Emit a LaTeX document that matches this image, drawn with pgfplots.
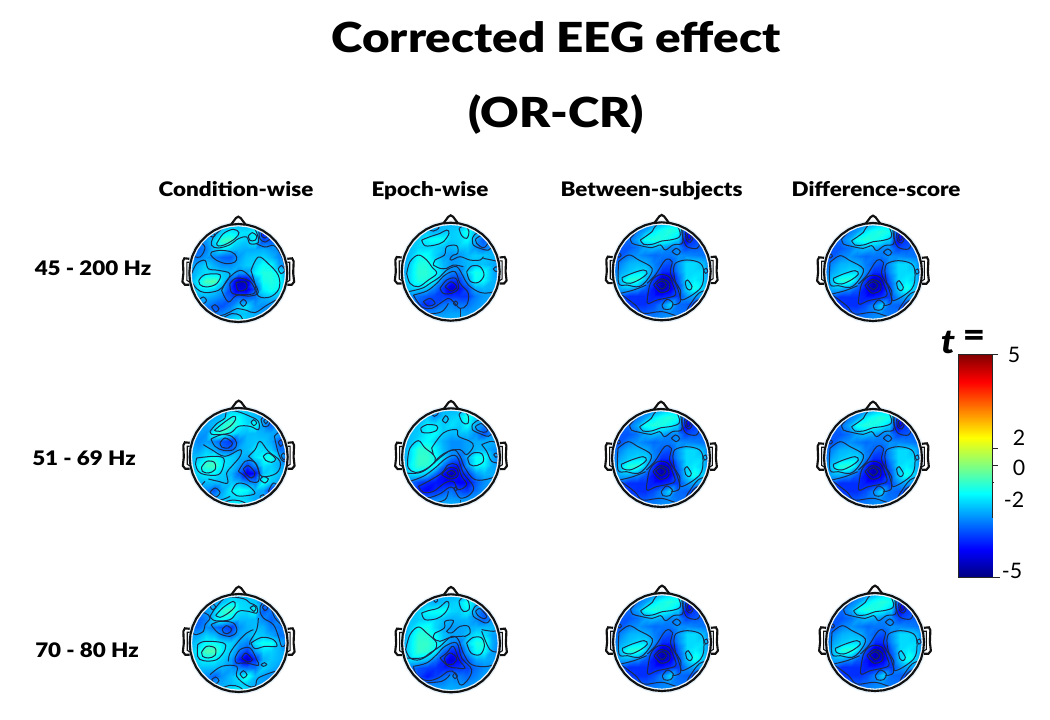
\documentclass[border=0pt]{standalone}
\usepackage{fontspec}
\usepackage{pgfplots}
\usepackage{pgfplotstable}
\pgfplotsset{compat=1.18}
\setmainfont{Lato}
\newfontfamily\titlefont{Lato Black}[FakeStretch=1.15]
\newfontfamily\labfont{Lato Black}[FakeStretch=1.12]

% t values, 13 x 13 grid, top row first
\pgfplotstableread[row sep=crcr]{v\\
-2.3\\-2.3\\-2.3\\-2.4\\-2.4\\-2.3\\-2.3\\-2.3\\-2.3\\-3.0\\-2.6\\-2.3\\-2.3\\
-2.3\\-2.4\\-2.5\\-2.6\\-2.0\\-1.7\\-1.9\\-1.9\\-1.6\\-3.9\\-3.3\\-2.4\\-2.3\\
-2.5\\-2.6\\-2.6\\-2.0\\-1.1\\-1.0\\-1.9\\-2.1\\-1.7\\-3.4\\-3.3\\-2.5\\-2.3\\
-3.0\\-3.1\\-2.8\\-2.2\\-1.8\\-2.1\\-2.3\\-2.4\\-2.4\\-2.4\\-2.6\\-2.8\\-2.4\\
-3.0\\-2.9\\-2.6\\-2.8\\-3.1\\-3.2\\-2.6\\-2.2\\-2.1\\-2.0\\-2.3\\-2.8\\-2.7\\
-2.5\\-2.4\\-2.0\\-2.4\\-2.7\\-2.7\\-2.4\\-2.1\\-2.0\\-1.5\\-1.6\\-2.5\\-3.0\\
-2.5\\-2.2\\-1.9\\-1.9\\-2.1\\-2.3\\-2.7\\-2.7\\-1.7\\-1.3\\-1.3\\-1.6\\-2.7\\
-2.5\\-1.8\\-0.9\\-0.8\\-2.0\\-3.2\\-4.4\\-4.4\\-2.6\\-1.4\\-1.3\\-1.5\\-2.4\\
-2.5\\-2.0\\-1.8\\-2.0\\-2.4\\-3.5\\-4.2\\-4.2\\-3.3\\-1.7\\-1.4\\-1.7\\-2.3\\
-2.6\\-2.5\\-2.4\\-2.6\\-2.9\\-3.2\\-3.0\\-3.1\\-2.9\\-2.4\\-2.3\\-2.4\\-2.4\\
-2.7\\-2.7\\-2.9\\-3.2\\-3.3\\-2.9\\-2.2\\-1.9\\-2.6\\-2.7\\-2.7\\-2.6\\-2.5\\
-2.5\\-2.6\\-2.7\\-2.9\\-2.7\\-2.5\\-2.2\\-2.2\\-2.4\\-2.5\\-2.5\\-2.5\\-2.5\\
-2.4\\-2.4\\-2.4\\-2.4\\-2.2\\-1.7\\-1.6\\-2.1\\-2.4\\-2.4\\-2.4\\-2.4\\-2.4\\
}\mapA
\pgfplotstableread[row sep=crcr]{v\\
-2.3\\-2.3\\-2.3\\-2.3\\-2.7\\-2.3\\-2.3\\-2.3\\-2.3\\-2.3\\-2.3\\-2.3\\-2.3\\
-2.3\\-2.3\\-2.2\\-2.2\\-2.4\\-2.2\\-2.1\\-2.0\\-1.4\\-2.2\\-2.4\\-2.4\\-2.3\\
-2.3\\-2.2\\-2.1\\-1.7\\-1.5\\-1.6\\-2.1\\-2.0\\-1.6\\-2.4\\-3.2\\-2.7\\-2.4\\
-2.4\\-2.2\\-2.0\\-2.0\\-2.0\\-2.2\\-2.3\\-2.1\\-2.1\\-2.6\\-3.0\\-2.6\\-2.4\\
-2.5\\-2.2\\-1.6\\-1.5\\-2.0\\-2.5\\-2.6\\-2.6\\-2.3\\-2.1\\-2.2\\-2.3\\-2.5\\
-2.6\\-2.0\\-1.3\\-1.3\\-1.7\\-2.3\\-2.6\\-2.5\\-2.3\\-2.2\\-2.2\\-2.4\\-2.7\\
-2.6\\-1.9\\-1.2\\-1.2\\-1.5\\-2.2\\-2.8\\-2.9\\-2.1\\-1.4\\-1.5\\-2.3\\-2.8\\
-2.5\\-1.9\\-1.3\\-1.3\\-1.7\\-3.0\\-3.6\\-3.5\\-2.6\\-1.5\\-1.6\\-2.3\\-2.5\\
-2.4\\-2.1\\-2.0\\-2.1\\-2.8\\-3.6\\-4.3\\-3.9\\-3.4\\-2.4\\-2.3\\-2.4\\-2.4\\
-2.5\\-2.7\\-3.0\\-3.2\\-3.4\\-3.5\\-3.6\\-3.6\\-3.6\\-2.9\\-2.6\\-2.5\\-2.4\\
-2.4\\-2.7\\-3.2\\-3.7\\-3.4\\-3.0\\-2.8\\-3.0\\-3.0\\-2.7\\-2.5\\-2.4\\-2.3\\
-2.4\\-2.5\\-2.6\\-2.8\\-2.7\\-2.6\\-2.5\\-2.5\\-2.6\\-2.5\\-2.4\\-2.4\\-2.3\\
-2.3\\-2.3\\-2.3\\-2.3\\-2.3\\-2.3\\-2.3\\-2.3\\-2.3\\-2.3\\-2.3\\-2.3\\-2.3\\
}\mapB
\pgfplotstableread[row sep=crcr]{v\\
-2.6\\-2.6\\-2.6\\-2.6\\-2.6\\-2.5\\-2.2\\-1.9\\-1.9\\-2.2\\-3.0\\-2.8\\-2.7\\
-2.6\\-2.7\\-2.7\\-2.7\\-2.3\\-1.6\\-1.2\\-1.0\\-1.2\\-3.5\\-3.2\\-2.9\\-2.6\\
-2.6\\-2.8\\-2.8\\-2.2\\-1.2\\-1.0\\-1.1\\-1.3\\-1.8\\-4.0\\-3.3\\-3.0\\-2.6\\
-2.8\\-3.0\\-3.0\\-2.7\\-2.2\\-2.0\\-2.2\\-2.5\\-2.5\\-3.2\\-3.0\\-2.9\\-2.7\\
-3.0\\-3.0\\-2.6\\-2.4\\-2.6\\-2.8\\-2.7\\-2.7\\-2.4\\-2.5\\-2.6\\-2.7\\-2.9\\
-2.9\\-2.5\\-2.1\\-2.0\\-2.1\\-2.6\\-2.9\\-3.1\\-2.4\\-1.7\\-1.7\\-2.0\\-2.9\\
-2.8\\-2.2\\-1.9\\-1.7\\-1.7\\-2.5\\-3.4\\-3.4\\-2.5\\-1.7\\-1.7\\-1.7\\-2.8\\
-2.6\\-1.8\\-1.0\\-0.9\\-1.9\\-3.3\\-4.4\\-4.2\\-2.9\\-1.7\\-1.5\\-1.8\\-2.6\\
-2.7\\-2.1\\-2.0\\-2.3\\-2.9\\-3.7\\-4.5\\-4.0\\-3.2\\-1.8\\-1.1\\-1.8\\-2.5\\
-2.8\\-3.0\\-3.4\\-3.4\\-3.4\\-3.6\\-3.6\\-3.4\\-3.3\\-2.4\\-2.2\\-2.4\\-2.7\\
-2.7\\-3.0\\-3.3\\-3.4\\-3.4\\-3.1\\-2.6\\-1.8\\-2.8\\-2.9\\-3.3\\-3.6\\-3.1\\
-2.6\\-2.7\\-2.9\\-3.0\\-3.0\\-2.8\\-2.6\\-2.5\\-2.7\\-2.8\\-3.1\\-3.2\\-2.9\\
-2.6\\-2.6\\-2.6\\-2.6\\-2.6\\-2.5\\-2.4\\-2.4\\-2.5\\-2.6\\-2.6\\-2.6\\-2.6\\
}\mapC
\pgfplotstableread[row sep=crcr]{v\\
-2.1\\-2.1\\-2.1\\-2.1\\-2.1\\-2.1\\-2.1\\-2.1\\-2.1\\-2.1\\-2.1\\-2.1\\-2.1\\
-2.1\\-2.1\\-2.2\\-2.3\\-2.1\\-1.4\\-1.5\\-1.9\\-2.1\\-2.6\\-2.4\\-2.1\\-2.1\\
-2.1\\-2.2\\-2.3\\-2.1\\-1.2\\-0.8\\-1.4\\-1.8\\-1.3\\-2.4\\-3.0\\-2.4\\-2.2\\
-2.2\\-2.4\\-2.5\\-1.3\\-1.0\\-1.6\\-2.0\\-2.1\\-2.1\\-2.2\\-2.3\\-2.5\\-2.3\\
-2.3\\-2.6\\-2.4\\-2.6\\-3.1\\-3.4\\-2.6\\-2.1\\-2.0\\-2.0\\-2.3\\-3.1\\-2.8\\
-2.2\\-2.4\\-2.0\\-2.2\\-2.9\\-3.0\\-2.3\\-2.1\\-1.7\\-1.8\\-2.0\\-2.9\\-2.9\\
-2.1\\-2.0\\-1.6\\-1.3\\-1.8\\-1.9\\-2.2\\-2.3\\-1.7\\-1.4\\-1.1\\-2.2\\-3.2\\
-2.1\\-1.6\\-0.9\\-0.8\\-1.6\\-1.9\\-2.4\\-3.3\\-2.5\\-1.7\\-1.9\\-2.3\\-2.4\\
-2.1\\-1.8\\-1.5\\-1.5\\-1.9\\-2.2\\-3.0\\-4.1\\-3.8\\-2.0\\-1.8\\-2.1\\-2.2\\
-2.1\\-2.2\\-2.1\\-2.1\\-2.0\\-2.0\\-2.2\\-2.6\\-2.7\\-1.3\\-2.0\\-2.5\\-2.2\\
-2.2\\-2.5\\-2.6\\-3.1\\-2.3\\-1.6\\-1.3\\-1.5\\-2.1\\-2.3\\-3.5\\-2.9\\-2.2\\
-2.1\\-2.2\\-2.3\\-2.4\\-2.1\\-1.9\\-1.8\\-2.0\\-2.3\\-2.3\\-2.7\\-2.4\\-2.1\\
-2.1\\-2.1\\-2.1\\-2.1\\-1.7\\-1.4\\-1.4\\-1.6\\-2.1\\-2.1\\-2.1\\-2.1\\-2.1\\
}\mapD
\pgfplotstableread[row sep=crcr]{v\\
-2.3\\-2.3\\-2.3\\-2.3\\-2.4\\-2.3\\-2.3\\-2.3\\-2.3\\-2.3\\-2.3\\-2.3\\-2.3\\
-2.3\\-2.3\\-2.3\\-2.2\\-2.7\\-2.2\\-2.1\\-2.0\\-1.3\\-2.1\\-2.3\\-2.3\\-2.3\\
-2.3\\-2.3\\-2.2\\-1.7\\-1.8\\-2.1\\-1.9\\-2.1\\-1.6\\-2.4\\-2.9\\-2.5\\-2.3\\
-2.4\\-2.2\\-2.1\\-1.7\\-1.6\\-2.1\\-2.3\\-2.2\\-2.2\\-2.7\\-3.3\\-2.7\\-2.4\\
-2.6\\-2.2\\-1.9\\-1.6\\-2.0\\-2.4\\-2.7\\-2.7\\-2.5\\-2.4\\-2.4\\-2.4\\-2.5\\
-2.7\\-1.9\\-1.2\\-1.2\\-1.7\\-2.3\\-2.7\\-2.7\\-2.5\\-2.3\\-2.3\\-2.6\\-2.8\\
-2.6\\-1.9\\-1.1\\-1.1\\-1.5\\-2.0\\-2.8\\-3.1\\-2.4\\-1.5\\-1.5\\-2.4\\-3.0\\
-2.4\\-1.7\\-1.1\\-1.2\\-1.6\\-2.9\\-3.7\\-3.8\\-2.6\\-1.6\\-1.7\\-2.4\\-2.6\\
-2.4\\-2.0\\-1.9\\-2.2\\-3.1\\-3.9\\-4.5\\-3.9\\-3.6\\-2.6\\-2.3\\-2.4\\-2.4\\
-2.6\\-3.0\\-3.4\\-3.7\\-3.8\\-3.9\\-3.9\\-4.0\\-4.0\\-3.2\\-2.7\\-2.5\\-2.4\\
-2.5\\-3.0\\-3.8\\-4.0\\-3.7\\-3.4\\-3.0\\-3.4\\-3.6\\-3.0\\-2.6\\-2.4\\-2.3\\
-2.4\\-2.5\\-2.9\\-3.0\\-2.9\\-2.7\\-2.6\\-2.7\\-2.7\\-2.6\\-2.4\\-2.3\\-2.3\\
-2.3\\-2.3\\-2.3\\-2.3\\-2.3\\-2.3\\-2.3\\-2.3\\-2.3\\-2.3\\-2.3\\-2.3\\-2.3\\
}\mapE
\pgfplotstableread[row sep=crcr]{v\\
-2.2\\-2.2\\-2.2\\-2.2\\-2.2\\-2.2\\-2.2\\-2.2\\-2.2\\-2.6\\-2.4\\-2.2\\-2.2\\
-2.2\\-2.3\\-2.4\\-2.5\\-2.2\\-1.7\\-1.9\\-2.0\\-2.1\\-3.0\\-2.8\\-2.3\\-2.2\\
-2.4\\-2.5\\-2.5\\-2.1\\-1.2\\-0.9\\-1.8\\-1.9\\-1.5\\-3.2\\-2.9\\-2.4\\-2.3\\
-2.9\\-3.1\\-2.8\\-1.9\\-1.4\\-1.9\\-2.2\\-2.2\\-2.2\\-2.7\\-3.1\\-2.7\\-2.4\\
-3.0\\-3.0\\-2.6\\-2.9\\-3.2\\-3.5\\-2.6\\-2.3\\-2.2\\-2.3\\-2.8\\-2.9\\-2.6\\
-2.5\\-2.4\\-2.0\\-2.2\\-2.8\\-3.0\\-2.4\\-2.3\\-2.0\\-2.1\\-2.4\\-2.9\\-3.0\\
-2.3\\-2.0\\-1.5\\-1.4\\-1.8\\-2.0\\-2.5\\-2.8\\-1.8\\-1.4\\-1.4\\-2.3\\-3.1\\
-2.2\\-1.6\\-0.8\\-0.8\\-1.7\\-2.1\\-2.9\\-3.5\\-2.5\\-1.9\\-2.0\\-2.3\\-2.4\\
-2.1\\-1.9\\-1.6\\-1.6\\-2.0\\-2.5\\-3.7\\-4.4\\-3.6\\-2.3\\-2.1\\-2.3\\-2.3\\
-2.1\\-2.2\\-2.2\\-2.2\\-2.3\\-2.5\\-2.7\\-2.9\\-2.9\\-2.0\\-2.3\\-2.6\\-2.3\\
-2.2\\-2.5\\-2.7\\-3.1\\-2.6\\-2.2\\-1.8\\-1.3\\-2.2\\-2.5\\-2.7\\-2.7\\-2.2\\
-2.1\\-2.2\\-2.4\\-2.5\\-2.4\\-2.2\\-2.0\\-2.1\\-2.4\\-2.5\\-2.4\\-2.3\\-2.1\\
-2.1\\-2.1\\-2.1\\-2.0\\-1.8\\-1.5\\-1.5\\-1.9\\-2.2\\-2.1\\-2.1\\-2.1\\-2.1\\
}\mapF
\pgfplotstableread[row sep=crcr]{v\\
-2.4\\-2.4\\-2.4\\-2.4\\-2.4\\-2.4\\-2.4\\-2.4\\-2.4\\-2.4\\-2.4\\-2.4\\-2.4\\
-2.4\\-2.4\\-2.3\\-2.3\\-2.4\\-2.2\\-2.1\\-2.0\\-1.4\\-2.2\\-2.5\\-2.4\\-2.3\\
-2.4\\-2.3\\-2.1\\-1.6\\-1.5\\-1.5\\-2.0\\-2.1\\-1.7\\-2.6\\-3.3\\-2.8\\-2.4\\
-2.5\\-2.2\\-2.1\\-2.0\\-2.0\\-2.2\\-2.4\\-2.3\\-2.3\\-2.7\\-3.2\\-2.7\\-2.4\\
-2.6\\-2.1\\-1.6\\-1.4\\-2.0\\-2.4\\-2.6\\-2.5\\-2.4\\-2.3\\-2.3\\-2.3\\-2.5\\
-2.7\\-1.9\\-1.2\\-1.2\\-1.6\\-2.2\\-2.5\\-2.5\\-2.2\\-1.8\\-1.9\\-2.5\\-2.8\\
-2.6\\-1.8\\-1.1\\-1.1\\-1.4\\-2.1\\-2.8\\-3.0\\-2.0\\-1.3\\-1.3\\-2.4\\-2.9\\
-2.5\\-1.8\\-1.1\\-1.2\\-1.7\\-3.0\\-3.7\\-3.7\\-2.5\\-1.5\\-1.6\\-2.5\\-2.8\\
-2.4\\-2.0\\-2.0\\-2.3\\-3.0\\-3.7\\-4.3\\-3.9\\-3.3\\-2.5\\-2.4\\-2.5\\-2.5\\
-2.6\\-3.0\\-3.3\\-3.5\\-3.6\\-3.7\\-3.7\\-3.6\\-3.5\\-3.0\\-2.7\\-2.5\\-2.4\\
-2.5\\-2.8\\-3.4\\-3.8\\-3.5\\-3.1\\-2.7\\-2.9\\-3.1\\-2.8\\-2.5\\-2.4\\-2.3\\
-2.4\\-2.5\\-2.7\\-2.9\\-2.8\\-2.7\\-2.5\\-2.6\\-2.7\\-2.5\\-2.4\\-2.3\\-2.3\\
-2.3\\-2.3\\-2.3\\-2.3\\-2.3\\-2.3\\-2.3\\-2.3\\-2.3\\-2.3\\-2.3\\-2.3\\-2.3\\
}\mapG

\pgfplotstableread{
x y v
958 354 5
992 354 5
958 376.3 4
992 376.3 4
958 398.6 3
992 398.6 3
958 420.9 2
992 420.9 2
958 443.2 1
992 443.2 1
958 465.5 0
992 465.5 0
958 487.8 -1
992 487.8 -1
958 510.1 -2
992 510.1 -2
958 532.4 -3
992 532.4 -3
958 554.7 -4
992 554.7 -4
958 577 -5
992 577 -5
}\barT

\definecolor{ctr}{HTML}{1B2B4D}
\definecolor{halo}{HTML}{E6F1FA}
\definecolor{hd}{HTML}{111111}
\def\zx{190}\def\zy{203}\def\hx{0}\def\hy{0}

% contour, in pixels of the zoomed crop
\newcommand\ct[1]{\addplot[ctr,line width=.75pt,smooth,tension=.6,
  x filter/.expression={\hx+(x-\zx)/3},y filter/.expression={\hy+(y-\zy)/3}] coordinates {#1};}
% head parts in head radii
\newcommand\hd[2]{\addplot[#1,x filter/.expression={\hx+49*x},y filter/.expression={\hy+49*y}] coordinates {#2};}

\def\ring{(1,0)(.985,.174)(.94,.342)(.866,.5)(.766,.643)(.643,.766)(.5,.866)(.342,.94)(.174,.985)(0,1)(-.174,.985)(-.342,.94)(-.5,.866)(-.643,.766)(-.766,.643)(-.866,.5)(-.94,.342)(-.985,.174)(-1,0)(-.985,-.174)(-.94,-.342)(-.866,-.5)(-.766,-.643)(-.643,-.766)(-.5,-.866)(-.342,-.94)(-.174,-.985)(0,-1)(.174,-.985)(.342,-.94)(.5,-.866)(.643,-.766)(.766,-.643)(.866,-.5)(.94,-.342)(.985,-.174)(1,0)}

\newcommand\ctrA{%
\ct{(125,115)(145,85)(175,72)(192,82)(180,100)(150,118)(130,122)(125,115)}
\ct{(145,55)(140,70)(115,95)(110,120)(130,128)(165,118)(190,100)(215,95)(225,115)(250,112)(248,90)(235,60)}
\ct{(220,92)(232,82)(245,92)(240,105)(225,105)(220,92)}
\ct{(252,80)(265,65)(285,75)(290,95)(270,110)(255,100)(252,80)}
\ct{(260,85)(270,78)(280,88)(270,98)(260,92)(260,85)}
\ct{(245,115)(270,125)(295,120)(310,135)(325,165)(332,200)}
\ct{(320,180)(310,190)(318,205)(330,195)(320,180)}
\ct{(110,140)(135,135)(170,140)(185,155)(180,170)(155,175)(125,165)(108,150)(110,140)}
\ct{(105,90)(112,82)(120,90)(112,95)(105,90)}
\ct{(48,150)(65,110)(90,125)(75,155)(48,150)}
\ct{(50,205)(65,175)(90,165)(100,190)(130,195)(165,205)(150,235)(130,255)(90,262)(65,250)(48,225)}
\ct{(72,225)(90,208)(135,208)(125,235)(95,245)(75,238)(72,225)}
\ct{(228,195)(250,155)(280,175)(310,210)(312,250)(285,275)(250,272)(240,235)(228,195)}
\ct{(140,255)(160,220)(195,195)(225,215)(250,260)(225,272)(185,270)(160,290)(140,255)}
\ct{(165,235)(185,218)(225,228)(240,262)(200,268)(170,262)(165,235)}
\ct{(183,232)(210,230)(215,250)(190,256)(183,232)}
\ct{(195,292)(205,282)(215,292)(205,303)(195,292)}
\ct{(110,305)(120,298)(132,310)(122,320)(110,305)}
\ct{(85,300)(130,330)(165,320)(185,310)(215,315)(240,322)(275,300)(310,280)}
\ct{(140,340)(170,325)(195,330)(205,348)}
\ct{(70,285)(85,275)(95,285)(85,295)(70,285)}
}
\newcommand\ctrB{%
\ct{(130,65)(150,58)(162,68)(145,78)(130,72)(130,65)}
\ct{(110,105)(135,95)(165,85)(185,75)(192,85)(175,110)(150,120)(120,122)(110,105)}
\ct{(222,70)(240,62)(252,80)(245,100)(230,92)(222,70)}
\ct{(262,100)(275,85)(305,95)(320,120)(310,135)(285,130)(265,120)(262,100)}
\ct{(272,102)(290,92)(308,112)(295,128)(275,115)(272,102)}
\ct{(65,205)(75,170)(100,150)(125,165)(140,185)(155,205)(130,225)(100,245)(75,235)(65,205)}
\ct{(145,180)(150,165)(178,150)(185,125)(215,122)(218,145)(205,150)(195,160)(200,165)(225,155)(255,165)(285,165)(295,155)}
\ct{(145,180)(165,190)(185,190)(205,180)(235,185)}
\ct{(245,200)(260,183)(285,185)(297,210)(280,232)(255,228)(245,200)}
\ct{(60,262)(110,250)(135,235)(165,215)(185,195)(215,185)(235,215)(250,240)(285,262)(320,262)(340,250)}
\ct{(85,270)(125,258)(155,235)(180,210)(210,200)(225,235)(250,265)(245,300)(225,310)(205,290)(190,280)(165,295)(140,310)(110,305)(85,270)}
\ct{(165,250)(185,225)(212,220)(220,250)(200,265)(175,265)(165,250)}
\ct{(180,245)(198,230)(215,245)(200,258)(180,245)}
\ct{(115,290)(135,280)(150,295)(130,303)(115,290)}
\ct{(205,295)(212,288)(218,295)(212,302)(205,295)}
\ct{(70,280)(90,310)(130,325)(170,320)(190,295)}
\ct{(225,335)(225,310)}
\ct{(295,160)(320,165)(342,170)}
\ct{(325,192)(333,185)(340,193)(333,200)(325,192)}
}
\newcommand\ctrC{%
\ct{(100,100)(130,70)(165,55)(200,50)(245,55)(255,85)(255,115)(228,120)(205,135)(190,120)(165,128)(130,122)(105,115)(100,100)}
\ct{(130,105)(165,80)(180,58)(225,52)(245,70)(248,95)(220,105)(195,108)(165,118)(140,118)(130,105)}
\ct{(225,140)(238,130)(250,140)(240,150)(225,140)}
\ct{(258,70)(275,60)(305,110)(300,130)(270,125)(258,100)(258,70)}
\ct{(265,85)(275,75)(288,95)(280,112)(268,105)(265,85)}
\ct{(270,90)(278,85)(282,98)(274,104)(270,90)}
\ct{(65,170)(95,150)(125,165)(165,190)(150,225)(125,245)(90,240)(65,235)(65,170)}
\ct{(75,218)(105,205)(140,195)(150,205)(130,222)(100,235)(78,230)(75,218)}
\ct{(230,200)(235,175)(270,165)(310,175)(320,205)(310,250)(255,285)(250,255)(235,230)(230,200)}
\ct{(265,232)(272,225)(285,245)(278,255)(268,248)(265,232)}
\ct{(150,235)(175,210)(205,165)(225,170)(220,205)(240,245)(250,290)(225,300)}
\ct{(150,290)(160,235)(185,210)(215,215)(230,245)(235,270)(205,280)(180,285)(155,296)(150,290)}
\ct{(170,240)(190,222)(215,232)(215,255)(190,262)(170,240)}
\ct{(178,238)(195,228)(208,240)(195,252)(178,238)}
\ct{(195,300)(210,283)(228,295)(220,312)(200,312)(195,300)}
\ct{(70,265)(110,255)(148,240)}
\ct{(75,270)(115,300)(140,325)(195,320)(255,335)(275,305)(305,265)(335,255)}
\ct{(280,325)(290,295)(320,275)}
\ct{(60,150)(68,145)(72,152)(65,157)(60,150)}
\ct{(320,195)(328,190)(332,200)(325,205)(320,195)}
}
\newcommand\ctrD{%
\ct{(105,115)(125,92)(150,75)(155,55)(185,55)(225,70)(250,85)(250,110)(225,100)(190,100)(165,120)(115,125)(105,115)}
\ct{(118,112)(145,90)(175,70)(182,78)(165,100)(135,115)(118,112)}
\ct{(228,88)(236,80)(245,90)(236,98)(228,88)}
\ct{(258,80)(270,68)(285,80)(280,98)(265,100)(258,80)}
\ct{(266,84)(272,78)(278,84)(272,92)(266,84)}
\ct{(108,138)(140,125)(170,130)(185,150)(175,170)(145,172)(120,160)(108,138)}
\ct{(135,150)(150,135)(172,150)(160,165)(140,162)(135,150)}
\ct{(298,130)(315,118)(330,150)(340,190)(325,205)(310,180)(298,130)}
\ct{(310,148)(318,140)(324,152)(316,160)(310,148)}
\ct{(318,188)(326,180)(334,192)(326,200)(318,188)}
\ct{(65,195)(115,190)(145,195)(145,220)(130,245)(90,245)(70,235)(62,215)(65,195)}
\ct{(80,222)(95,205)(118,208)(120,230)(100,240)(82,235)(80,222)}
\ct{(85,155)(110,170)(150,190)(195,170)(195,190)(170,220)(155,240)(158,270)(130,265)(100,258)}
\ct{(220,190)(240,170)(255,145)(280,175)(315,205)(305,240)(260,250)(245,215)(220,190)}
\ct{(265,190)(280,180)(302,198)(290,208)(272,202)(265,190)}
\ct{(190,235)(210,205)(235,205)(250,230)(250,265)(225,265)(210,250)(190,235)}
\ct{(205,228)(220,218)(240,240)(230,255)(215,245)(205,228)}
\ct{(255,260)(265,250)(280,258)(270,270)(255,260)}
\ct{(280,295)(295,270)(312,285)(300,303)(280,295)}
\ct{(105,298)(120,285)(135,298)(122,312)(105,298)}
\ct{(170,295)(185,272)(215,275)(240,300)(215,308)(185,308)(170,295)}
\ct{(135,335)(165,322)(200,325)(225,340)}
\ct{(90,265)(75,290)(105,320)(140,320)(165,310)}
\ct{(255,310)(265,305)(270,315)(258,320)(255,310)}
}
\newcommand\ctrE{%
\ct{(137,58)(148,50)(160,60)(148,70)(137,58)}
\ct{(172,82)(182,68)(190,78)(182,90)(172,82)}
\ct{(222,65)(235,53)(250,70)(248,92)(232,88)(222,65)}
\ct{(108,105)(125,95)(155,98)(155,112)(130,120)(110,117)(108,105)}
\ct{(262,95)(280,82)(305,90)(322,115)(310,130)(280,120)(262,110)(262,95)}
\ct{(272,100)(290,92)(308,112)(295,118)(275,110)(272,100)}
\ct{(68,200)(75,165)(100,143)(120,165)(145,185)(150,205)(120,230)(90,238)(70,225)(68,200)}
\ct{(140,165)(175,120)(215,110)(220,130)(255,145)(265,160)(245,185)(225,170)(190,175)(165,190)(150,205)}
\ct{(140,165)(145,185)}
\ct{(248,195)(265,180)(290,182)(295,205)(275,218)(255,215)(248,195)}
\ct{(290,155)(320,145)(345,155)}
\ct{(290,155)(305,175)(320,205)(345,210)}
\ct{(326,185)(333,180)(339,187)(333,193)(326,185)}
\ct{(55,240)(100,240)(130,225)(170,190)(205,170)(225,190)(240,225)(270,260)(320,255)(345,235)}
\ct{(75,265)(115,250)(150,225)(185,195)(215,190)(235,240)(265,280)(255,305)(225,315)(205,285)(190,285)(160,305)(115,315)(85,290)(75,265)}
\ct{(100,280)(130,265)(170,240)(190,215)(215,215)(230,250)(245,275)(220,290)(205,265)(180,270)(145,295)(115,298)(100,280)}
\ct{(170,245)(190,225)(215,228)(218,250)(195,258)(170,245)}
\ct{(185,240)(200,232)(212,242)(200,250)(185,240)}
\ct{(207,287)(212,282)(216,288)(212,294)(207,287)}
\ct{(70,290)(95,320)(140,330)(180,320)(190,295)}
\ct{(225,320)(225,340)}
}
\newcommand\ctrF{%
\ct{(105,115)(125,85)(155,58)(205,62)(225,75)(245,85)(245,105)(220,100)(190,100)(165,125)(120,128)(105,115)}
\ct{(122,112)(145,88)(175,70)(180,85)(160,105)(135,118)(122,112)}
\ct{(225,90)(235,83)(243,90)(237,100)(225,90)}
\ct{(256,85)(270,68)(285,85)(300,120)(325,150)(332,195)(320,205)(310,175)(295,140)(265,120)(255,100)(256,85)}
\ct{(262,88)(270,80)(278,90)(270,98)(262,88)}
\ct{(108,140)(135,130)(175,135)(185,160)(165,175)(130,165)(108,140)}
\ct{(142,153)(155,143)(170,155)(158,167)(145,163)(142,153)}
\ct{(48,155)(62,110)(90,105)(105,120)(90,140)(85,160)(60,170)(48,155)}
\ct{(105,85)(115,78)(122,88)(112,95)(105,85)}
\ct{(68,200)(90,190)(145,195)(150,215)(125,245)(85,248)(68,235)(68,200)}
\ct{(80,222)(95,205)(120,210)(120,232)(100,240)(83,235)(80,222)}
\ct{(250,120)(245,155)(225,190)(225,200)}
\ct{(160,250)(165,225)(190,190)(215,165)(235,155)}
\ct{(180,240)(195,215)(225,210)(245,245)(250,262)(215,255)(185,255)(180,240)}
\ct{(200,240)(212,225)(232,245)(218,252)(200,240)}
\ct{(228,195)(260,178)(295,185)(305,205)(270,205)(240,212)(228,195)}
\ct{(258,260)(268,254)(275,260)(265,265)(258,260)}
\ct{(195,288)(205,278)(216,290)(205,300)(195,288)}
\ct{(110,305)(122,297)(132,308)(120,318)(110,305)}
\ct{(105,290)(140,265)(185,265)(185,295)(215,322)(240,325)(250,300)(300,280)}
\ct{(130,335)(165,322)(195,328)(210,345)}
}
\newcommand\ctrG{%
\ct{(146,67)(153,60)(158,67)(152,73)(146,67)}
\ct{(110,105)(130,98)(160,90)(185,70)(192,80)(180,105)(155,122)(120,125)(110,105)}
\ct{(222,70)(235,58)(250,70)(252,95)(235,100)(225,85)(222,70)}
\ct{(262,100)(275,82)(300,90)(318,115)(305,135)(280,125)(265,115)(262,100)}
\ct{(272,100)(285,92)(305,115)(295,122)(278,112)(272,100)}
\ct{(62,215)(75,170)(100,147)(125,165)(155,195)(145,220)(105,245)(75,240)(62,215)}
\ct{(150,165)(178,150)(180,130)(205,128)(195,150)(185,160)(200,165)(225,145)(250,145)(255,165)(240,175)}
\ct{(150,165)(145,180)(165,190)(190,180)(225,175)(240,175)}
\ct{(245,195)(265,178)(290,180)(298,205)(285,230)(258,225)(245,195)}
\ct{(290,155)(325,160)(345,155)}
\ct{(290,160)(315,215)(345,222)}
\ct{(60,240)(110,240)(135,225)(165,205)(200,175)(220,185)(235,225)(260,260)(310,265)(340,250)}
\ct{(85,265)(125,255)(155,230)(180,205)(215,195)(230,240)(260,275)(245,310)(225,320)(210,285)(190,280)(160,300)(125,308)(95,290)(85,265)}
\ct{(165,240)(185,225)(205,205)(222,245)(240,270)(215,270)(190,265)(165,240)}
\ct{(178,240)(195,225)(215,240)(205,258)(185,258)(178,240)}
\ct{(203,294)(210,285)(217,294)(210,302)(203,294)}
\ct{(110,315)(170,310)(195,290)}
}

% real centre x y, table, contours, crop centre x, crop centre y + brightness shift
\newcommand\head[7]{%
  \def\hx{#1}\def\hy{#2}\def\zx{#5}\def\zy{#6}%
  \addplot[surf,shader=interp,mesh/cols=13,point meta={\thisrow{v}+#7*min(1,\thisrow{v}+4.6)}]
    table[x index=0,y index=0,x expr={#1+49*(mod(\coordindex,13)-6)/6},y expr={#2+49*(floor(\coordindex/13)-6)/6}] #3;
  #4%
  \hd{fill=white,draw=none}{(1.1,0)(1.1,1.1)(-1.1,1.1)(-1.1,-1.1)(1.1,-1.1)(1.1,0)(1,0)(.985,-.174)(.94,-.342)(.866,-.5)(.766,-.643)(.643,-.766)(.5,-.866)(.342,-.94)(.174,-.985)(0,-1)(-.174,-.985)(-.342,-.94)(-.5,-.866)(-.643,-.766)(-.766,-.643)(-.866,-.5)(-.94,-.342)(-.985,-.174)(-1,0)(-.985,.174)(-.94,.342)(-.866,.5)(-.766,.643)(-.643,.766)(-.5,.866)(-.342,.94)(-.174,.985)(0,1)(.174,.985)(.342,.94)(.5,.866)(.643,.766)(.766,.643)(.866,.5)(.94,.342)(.985,.174)(1,0)(1.1,0)}
  \hd{halo,line width=3.6pt}{\ring}
  \hd{hd,line width=1.6pt}{\ring}
  \hd{hd,line width=1.6pt}{(-.15,-.985)(-.05,-1.12)(0,-1.15)(.05,-1.12)(.15,-.985)}
  \hd{hd,line width=1.6pt}{(-1,-.29)(-1.1,-.3)(-1.13,-.24)(-1.12,0)(-1.14,.18)(-1.09,.24)(-1,.24)}
  \hd{hd,line width=1.6pt}{(1,-.29)(1.1,-.3)(1.13,-.24)(1.12,0)(1.14,.18)(1.09,.24)(1,.24)}
  \hd{hd,line width=.8pt}{(-1,-.22)(-1.05,-.22)(-1.05,.15)(-1,.18)}
  \hd{hd,line width=.8pt}{(1,-.22)(1.05,-.22)(1.05,.15)(1,.18)}
}
\begin{document}
\begin{tikzpicture}
\begin{axis}[
  scale only axis,width=787.5pt,height=539.25pt,
  xmin=0,xmax=1050,ymin=0,ymax=719,y dir=reverse,
  hide axis,clip=false,colormap/jet,point meta min=-5,point meta max=5]
\path (axis cs:0,0) rectangle (axis cs:1050,719);

\head{238.3}{273}{\mapA}{\ctrA}{190}{203}{.35}
\head{450.7}{271.7}{\mapB}{\ctrB}{197}{200}{.35}
\head{661.7}{271.3}{\mapC}{\ctrC}{194}{199}{.1}
\head{873}{272}{\mapC}{\ctrC}{194}{199}{.1}
\head{238.7}{457}{\mapD}{\ctrD}{191}{192}{.2}
\head{451}{457.3}{\mapE}{\ctrE}{198}{193}{.35}
\head{661}{458}{\mapC}{\ctrC}{194}{199}{.1}
\head{873}{458}{\mapC}{\ctrC}{194}{199}{.1}
\head{238.7}{643}{\mapF}{\ctrF}{191}{195}{.3}
\head{451}{643.3}{\mapG}{\ctrG}{198}{196}{.35}
\head{662}{642}{\mapC}{\ctrC}{194}{199}{.1}
\head{875}{642}{\mapC}{\ctrC}{194}{199}{.1}

% colour bar
\addplot[surf,shader=interp,mesh/cols=2,point meta=explicit] table[x=x,y=y,meta=v] \barT;
\addplot[black!85,line width=.7pt] coordinates {(998,354)(958,354)(958,577)(1000,577)};
\addplot[black!85,line width=.6pt] coordinates {(992,354)(992,518)};
\addplot[black!85,line width=.6pt] coordinates {(992,448)(998,448)};
\addplot[black!85,line width=.6pt] coordinates {(992,465)(998,465)};
\addplot[black!85,line width=.6pt] coordinates {(992,482)(994,482)};

\node[anchor=base,font=\titlefont\fontsize{31}{31}\selectfont] at (axis cs:556,52) {Corrected EEG effect};
\node[anchor=base,font=\titlefont\fontsize{31}{31}\selectfont] at (axis cs:556,127) {(OR-CR)};
\node[anchor=base,font=\labfont\fontsize{15}{15}\selectfont] at (axis cs:236,196) {Condition-wise};
\node[anchor=base,font=\labfont\fontsize{15}{15}\selectfont] at (axis cs:430,196) {Epoch-wise};
\node[anchor=base,font=\labfont\fontsize{15}{15}\selectfont] at (axis cs:651.5,196) {Between-subjects};
\node[anchor=base,font=\labfont\fontsize{15}{15}\selectfont] at (axis cs:876,196) {Difference-score};
\node[anchor=base,font=\labfont\fontsize{15}{15}\selectfont] at (axis cs:93,275) {45 - 200 Hz};
\node[anchor=base,font=\labfont\fontsize{15}{15}\selectfont] at (axis cs:84,465) {51 - 69 Hz};
\node[anchor=base,font=\labfont\fontsize{15}{15}\selectfont] at (axis cs:87,657) {70 - 80 Hz};
\node[font=\titlefont\itshape\fontsize{25}{25}\selectfont] at (axis cs:948,342) {t};
\node[font=\titlefont\fontsize{25}{25}\selectfont] at (axis cs:974,338) {=};
\node[font=\fontsize{16}{16}\selectfont] at (axis cs:1014,355) {5};
\node[font=\fontsize{16}{16}\selectfont] at (axis cs:1019,438) {2};
\node[font=\fontsize{16}{16}\selectfont] at (axis cs:1019,468) {0};
\node[font=\fontsize{16}{16}\selectfont] at (axis cs:1014,500) {-2};
\node[font=\fontsize{16}{16}\selectfont] at (axis cs:1012,571) {-5};
\end{axis}
\end{tikzpicture}
\end{document}
